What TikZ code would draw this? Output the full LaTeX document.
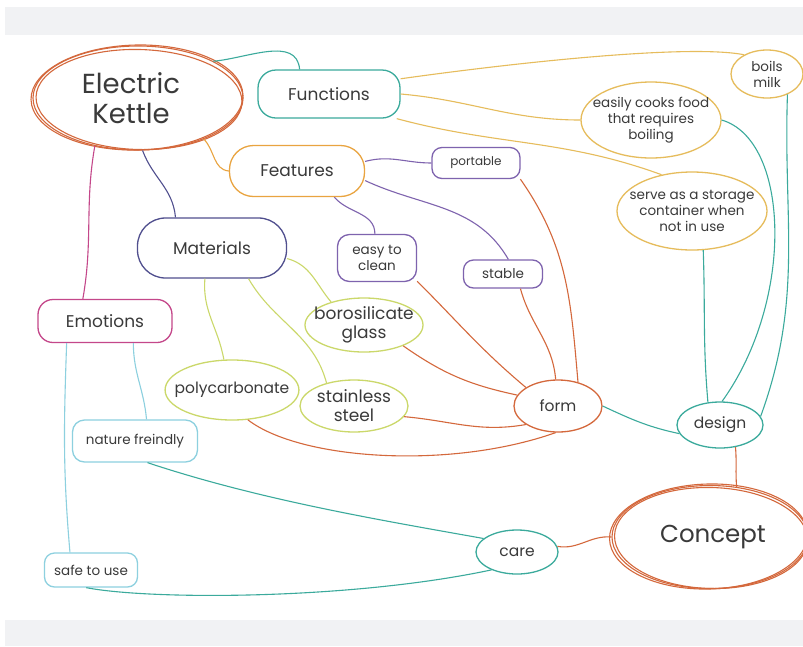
\documentclass[tikz,border=0pt]{standalone}
\usepackage{fontspec}
\setmainfont{Poppins}
\usetikzlibrary{shapes.geometric,calc}

\definecolor{band}{HTML}{F1F2F4}
\definecolor{ink}{HTML}{3A3A3A}
\definecolor{rust}{HTML}{D4683C}
\definecolor{teal}{HTML}{3BAA9C}
\definecolor{gold}{HTML}{E6BC5C}
\definecolor{amber}{HTML}{E9A440}
\definecolor{violet}{HTML}{7E63AE}
\definecolor{navy}{HTML}{504F8E}
\definecolor{lime}{HTML}{CBD86A}
\definecolor{magenta}{HTML}{C4478A}
\definecolor{sky}{HTML}{8DD0DF}

\tikzset{
  box/.style={draw, line width=1.3pt, text=ink, align=center, inner sep=0pt},
  pill/.style={box, rectangle},
  oval/.style={box, ellipse, inner xsep=-10pt, inner ysep=-4pt},
  mid/.style={font=\fontsize{17}{19}\selectfont},
  midsm/.style={font=\fontsize{15.5}{19}\selectfont},
  small/.style={font=\fontsize{13.5}{16}\selectfont},
  link/.style={line width=1.1pt},
  sketch/.style={line width=1.1pt, rust},
}

\begin{document}
\begin{tikzpicture}[x=1pt,y=-1pt]
\useasboundingbox (0,0) rectangle (803,646);
\fill[white] (0,0) rectangle (803,646);
\fill[band] (5,7) rectangle (803,35);
\fill[band] (5,620) rectangle (803,646);

% central topics, outlined with several loose strokes
\node[oval, draw=rust, line width=1.1pt, font=\fontsize{27.5}{30}\selectfont, minimum width=210, minimum height=104] (kettle) at (138,98) {\hspace*{-14pt}Electric\\\hspace*{-14pt}Kettle};
\draw[sketch] (kettle.center) ++(1,1.5) ellipse [x radius=103pt, y radius=50pt, rotate=-1.5];
\draw[sketch] (kettle.center) ++(-1,-0.5) ellipse [x radius=106pt, y radius=52.5pt, rotate=1.2];

\node[oval, draw=rust, line width=1.1pt, font=\fontsize{24.5}{30}\selectfont, minimum width=196, minimum height=103] (concept) at (710,537) {\hspace*{6pt}Concept};
\draw[sketch] (concept.center) ++(1,1) ellipse [x radius=96.5pt, y radius=50.5pt, rotate=-1.5];
\draw[sketch] (concept.center) ++(-1.5,-0.5) ellipse [x radius=99pt, y radius=52.5pt, rotate=1.5];

% main branches
\node[pill, draw=teal, rounded corners=18pt, mid, minimum width=142, minimum height=48] (fun) at (329,94) {Functions};
\node[pill, draw=amber, rounded corners=24pt, mid, minimum width=135, minimum height=51] (feat) at (297,171) {Features};
\node[pill, draw=navy, rounded corners=28pt, mid, minimum width=149, minimum height=60] (mat) at (212,248) {Materials};
\node[pill, draw=magenta, rounded corners=15pt, mid, minimum width=134, minimum height=43] (emo) at (105,321) {Emotions};

% functions
\node[oval, draw=gold, small, minimum width=72, minimum height=48] (milk) at (767,74) {boils\\milk};
\node[oval, draw=gold, small, minimum width=140, minimum height=76] (cook) at (651,120) {easily cooks food\\that requires\\boiling};
\node[oval, draw=gold, small, minimum width=150, minimum height=78] (store) at (692,211) {serve as a storage\\container when\\not in use};

% features
\node[pill, draw=violet, rounded corners=10pt, font=\fontsize{12}{16}\selectfont, minimum width=88, minimum height=31] (port) at (476,163) {portable};
\node[pill, draw=violet, rounded corners=12pt, small, minimum width=79, minimum height=47] (clean) at (377,258) {easy to\\clean};
\node[pill, draw=violet, rounded corners=10pt, small, minimum width=79, minimum height=28] (stab) at (503,274) {stable};

% materials
\node[oval, draw=lime, mid, minimum width=118, minimum height=54] (boro) at (364,325) {borosilicate\\glass};
\node[oval, draw=lime, midsm, minimum width=130, minimum height=60] (poly) at (232,390) {polycarbonate};
\node[oval, draw=lime, mid, minimum width=108, minimum height=52] (steel) at (354,406) {stainless\\steel};

% emotions
\node[pill, draw=sky, rounded corners=12pt, small, minimum width=125, minimum height=42] (nat) at (135,441) {nature freindly};
\node[pill, draw=sky, rounded corners=10pt, small, minimum width=93, minimum height=34] (safe) at (91,570) {safe to use};

% concept side
\node[oval, draw=rust, midsm, minimum width=88, minimum height=52] (form) at (558,406) {form};
\node[oval, draw=teal, midsm, minimum width=86, minimum height=46] (design) at (720,425) {design};
\node[oval, draw=teal, midsm, minimum width=82, minimum height=44] (care) at (517,552) {care};

% connectors from the kettle
\draw[link, teal] (kettle.26) to[out=5, in=95] (fun.140);
\draw[link, amber] (kettle.-32) to[out=-45, in=175] (feat.west);
\draw[link, navy] (kettle.-85) to[out=-70, in=95] (mat.140);
\draw[link, magenta] (kettle.-132) to[out=-100, in=80] (emo.135);

% functions
\draw[link, gold] (fun.12) .. controls (520,62) and (690,44) .. (milk.140);
\draw[link, gold] (fun.east) to[out=-5, in=180] (cook.west);
\draw[link, gold] (fun.-20) to[out=-15, in=160] (store.130);

% features
\draw[link, violet] (feat.8) to[out=15, in=180] (port.west);
\draw[link, violet] (feat.-8) to[out=-25, in=120] (stab.70);
\draw[link, violet] (feat.-35) to[out=-50, in=90] (clean.95);

% materials
\draw[link, lime] (mat.-8) to[out=-15, in=130] (boro.145);
\draw[link, lime] (mat.-103) to[out=-95, in=100] (poly.105);
\draw[link, lime] (mat.-40) to[out=-60, in=105] (steel.140);

% emotions
\draw[link, sky] (emo.-38) to[out=-90, in=95] (nat.62);
\draw[link, sky] (emo.-150) to[out=-92, in=95] (safe.140);

% everything feeding into form
\draw[link, rust] (port.-20) to[out=-55, in=95] (form.50);
\draw[link, rust] (clean.-30) to[out=-45, in=140] (form.150);
\draw[link, rust] (stab.-40) to[out=-75, in=95] (form.95);
\draw[link, rust] (boro.-28) to[out=-35, in=168] (form.165);
\draw[link, rust] (steel.-12) to[out=-5, in=-170] (form.-150);
\draw[link, rust] (poly.-62) .. controls (300,460) and (450,470) .. (form.-95);

% design inputs
\draw[link, teal] (form.east) to[out=-25, in=168] (design.-168);
\draw[link, teal] (store.-74) to[out=-88, in=95] (design.118);
\draw[link, teal] (cook.east) .. controls (790,140) and (795,300) .. (design.85);
\draw[link, teal] (milk.-45) to[out=-92, in=70] (design.12);

% towards the concept
\draw[link, rust] (design.-55) to[out=-85, in=95] (concept.62);
\draw[link, rust] (care.8) to[out=-10, in=175] (concept.west);
\draw[link, teal] (nat.-60) .. controls (260,500) and (380,520) .. (care.158);
\draw[link, teal] (safe.-105) .. controls (150,600) and (350,600) .. (care.-145);
\end{tikzpicture}
\end{document}
